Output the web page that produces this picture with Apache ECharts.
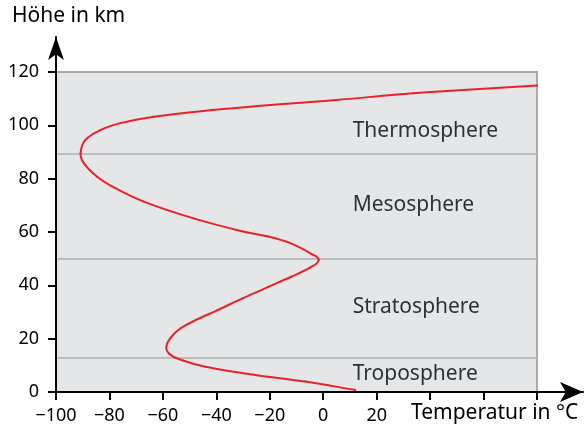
<!DOCTYPE html>
<html>
<head>
    <meta charset="utf-8">
    <title>Temperaturprofil der Atmosphäre</title>
    <script src="https://cdn.jsdelivr.net/npm/echarts@6/dist/echarts.min.js"></script>
    <style>
        html, body { margin: 0; padding: 0; background: #fff; }
    </style>
</head>
<body>
    <div id="chart" style="width: 585px; height: 431px;"></div>

    <script>
    // temperature (°C) and height (km) along the profile
    const temperature = [12, -6.7, -25.4, -44.1, -52.5, -57.5, -58.7, -57, -53.5, -47, -39.7, -30, -20.5, -12, -5, -1.7, -4.5, -12.3, -21, -30.5, -48.5, -67.2, -78, -84.6, -89.6, -90.8, -89, -83.4, -75.9, -63.4, -44.7, -19.8, 5, 33.8, 80];
    const height      = [0.75, 3.9, 6.4, 9.5, 11.8, 14.2, 17, 20.5, 23.8, 27.3, 30.6, 35.2, 39.4, 43.2, 46.6, 49.5, 51.8, 55.8, 58.4, 60.3, 65.1, 71.4, 76.5, 80.7, 85.8, 89.5, 94.5, 98.2, 100.8, 103.2, 105.4, 107.6, 109.5, 112, 114.9];

    // layer boundaries (km) and layer names
    const boundaries = [13, 50, 89.5];
    const layers = ['Troposphere', 'Stratosphere', 'Mesosphere', 'Thermosphere'];
    const layerLabelHeight = [6.8, 32, 70, 98];

    const xTicks = [-100, -80, -60, -40, -20, 0, 20, 40, 60, 80];
    const xLabels = [-100, -80, -60, -40, -20, 0, 20];
    const yTicks = [0, 20, 40, 60, 80, 100, 120];

    const chart = echarts.init(document.getElementById('chart'));
    const font = 'Noto Sans';
    const ink = '#000';
    const red = '#e8222a';
    const minus = v => String(v).replace('-', '\u2212');

    const profile = temperature.map((t, i) => [t, height[i]]);

    // smooth curve through the data points (chord-scaled Catmull-Rom), in pixel space
    function renderProfile(params, api) {
        if (params.dataIndex !== 0) return null;
        const pts = profile.map(p => api.coord(p));
        const n = pts.length;
        const dist = (a, b) => Math.hypot(b[0] - a[0], b[1] - a[1]);
        const tan = pts.map((p, i) => {
            const a = pts[Math.max(i - 1, 0)], b = pts[Math.min(i + 1, n - 1)];
            const d = dist(a, b) || 1;
            return [(b[0] - a[0]) / d, (b[1] - a[1]) / d];
        });
        const children = [];
        for (let i = 0; i < n - 1; i++) {
            const p = pts[i], q = pts[i + 1];
            const d = dist(p, q) / 3;
            children.push({
                type: 'bezierCurve',
                shape: {
                    x1: p[0], y1: p[1], x2: q[0], y2: q[1],
                    cpx1: p[0] + tan[i][0] * d, cpy1: p[1] + tan[i][1] * d,
                    cpx2: q[0] - tan[i + 1][0] * d, cpy2: q[1] - tan[i + 1][1] * d
                },
                style: { stroke: red, lineWidth: 2, fill: null, lineCap: 'round' }
            });
        }
        return { type: 'group', children };
    }

    chart.setOption({
        animation: false,
        textStyle: { fontFamily: font },
        grid: { left: 56, right: 2, top: 37, bottom: 39 },
        xAxis: {
            type: 'value', min: -100, max: 97.2, z: 10,
            axisLine: { onZero: false, lineStyle: { color: '#000', width: 2 }, symbol: ['none', 'arrow'], symbolSize: [15, 23] },
            axisTick: { show: true, length: 8, lineStyle: { color: '#000', width: 2 }, customValues: xTicks },
            axisLabel: { customValues: xLabels, formatter: minus, color: ink, fontSize: 18, margin: 15, fontFamily: font },
            splitLine: { show: false }
        },
        yAxis: {
            type: 'value', min: 0, max: 133.1, z: 10,
            axisLine: { show: true, onZero: false, lineStyle: { color: '#000', width: 2 }, symbol: ['none', 'arrow'], symbolSize: [12, 23] },
            axisTick: { show: true, length: 8, lineStyle: { color: '#000', width: 2 }, customValues: yTicks },
            axisLabel: { customValues: yTicks, color: ink, fontSize: 18, margin: 17, fontFamily: font },
            splitLine: { show: false }
        },
        series: [{
            type: 'line',
            data: [],
            showSymbol: false,
            markArea: {
                silent: true,
                itemStyle: { color: '#e5e6e8', borderColor: '#a8a9ab', borderWidth: 2 },
                data: [[{ coord: [-100, 0] }, { coord: [80, 120] }]]
            },
            markLine: {
                silent: true,
                symbol: 'none',
                label: { show: false },
                lineStyle: { color: '#bcbdbf', width: 2, type: 'solid' },
                data: boundaries.map(b => [{ coord: [-100, b] }, { coord: [80, b] }])
            },
            z: 1
        }, {
            type: 'custom',
            data: profile,
            encode: { x: 0, y: 1 },
            renderItem: renderProfile,
            clip: false,
            silent: true,
            z: 6
        }, {
            type: 'scatter',
            symbolSize: 0,
            silent: true,
            data: layers.map((n, i) => ({ name: n, value: [11, layerLabelHeight[i]] })),
            label: {
                show: true, position: 'right', distance: 0,
                formatter: p => p.name,
                color: ink, fontSize: 21, fontFamily: font
            },
            z: 7
        }],
        graphic: [
            { type: 'text', left: 12, top: 6, style: { text: 'Höhe in km', fontSize: 21, fontFamily: font, fill: ink } },
            { type: 'text', left: 411, top: 403, style: { text: 'Temperatur in °C', fontSize: 21, fontFamily: font, fill: ink } }
        ]
    });
    </script>
</body>
</html>
